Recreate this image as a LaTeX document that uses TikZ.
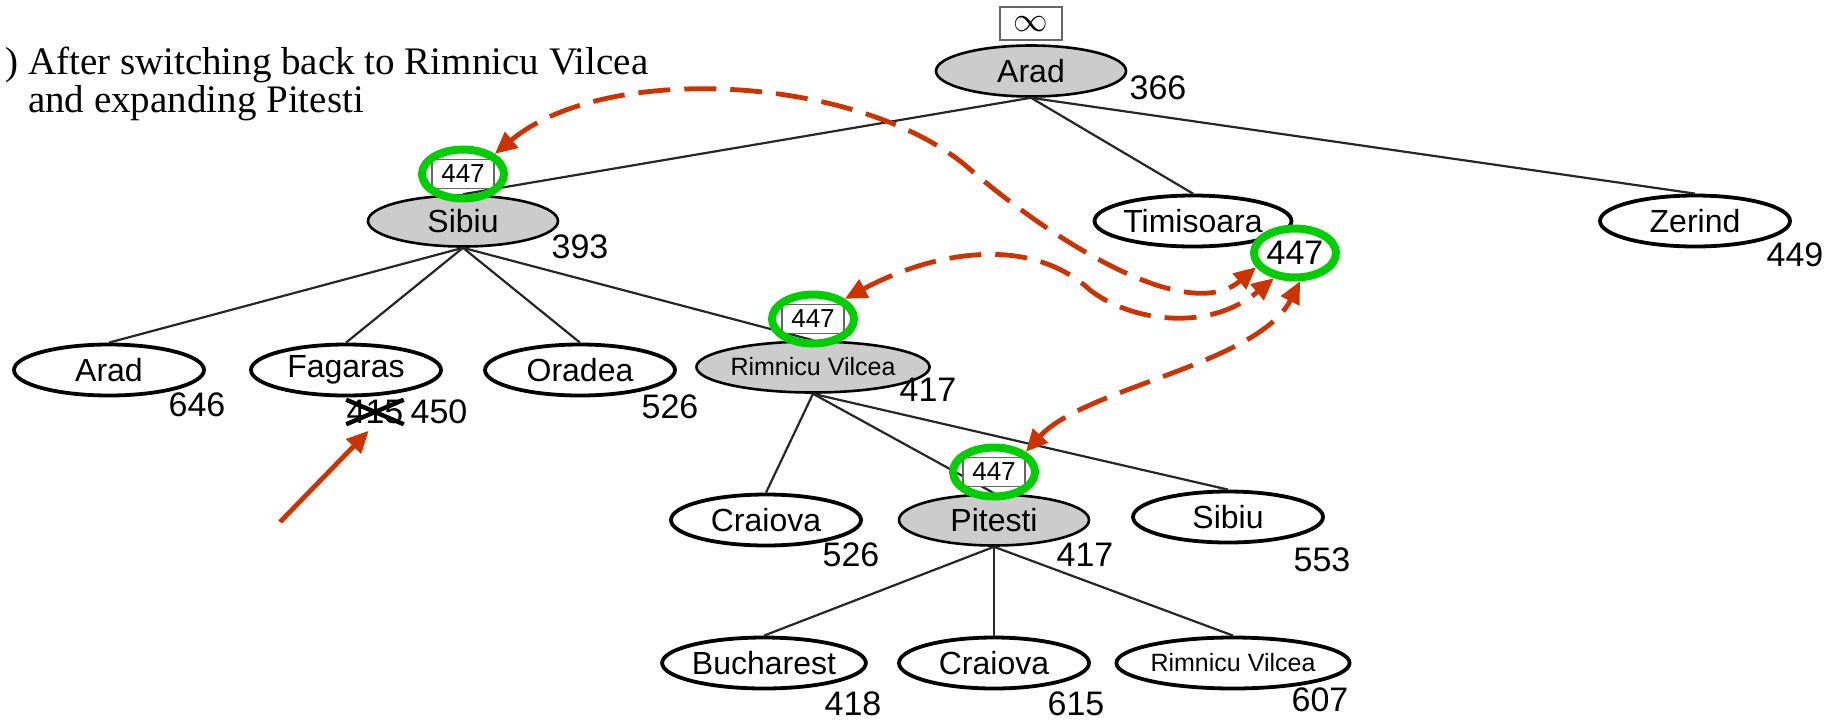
\documentclass[tikz,border=0pt]{standalone}
\usepackage{fontspec}
\setmainfont{Liberation Serif}
\newfontfamily\helv{Liberation Sans}
\usetikzlibrary{arrows.meta,positioning,shapes.geometric}
\definecolor{arrowred}{RGB}{204,51,0}
\definecolor{ringgreen}{RGB}{0,206,0}

\begin{document}
\begin{tikzpicture}[x=0.5pt,y=-0.5pt,
      font=\helv\fontsize{16}{18}\selectfont,
      city/.style={ellipse,draw,line width=1.9pt,fill=white,
                   minimum width=95pt,minimum height=25.5pt,inner sep=0pt},
      expanded/.style={city,fill=black!20,line width=1.3pt},
      hval/.style={inner sep=0pt,font=\helv\fontsize{17}{17}\selectfont},
      limbox/.style={draw=black!60,fill=white,line width=0.7pt,
                     minimum width=31pt,minimum height=14.5pt,inner sep=0pt,
                     font=\helv\fontsize{13}{13}\selectfont},
      ring/.style={ellipse,draw=ringgreen,line width=4pt,
                   minimum width=41pt,minimum height=24.5pt,inner sep=0pt},
      treeline/.style={line width=1.1pt,black!85},
      backarr/.style={{Triangle[length=11pt,width=10pt]}-{Triangle[length=11pt,width=10pt]},
                      line width=2.4pt,draw=arrowred,dash pattern=on 16pt off 7pt},
      pointer/.style={-{Triangle[length=11pt,width=10pt]},line width=2.4pt,draw=arrowred}]
    \useasboundingbox (0,0) rectangle (1837,724);
    \node[anchor=north west,align=left,font=\rmfamily\fontsize{19.5}{19}\selectfont] (title) at (21,40)
      {\llap{) }After switching back to Rimnicu Vilcea\\and expanding Pitesti};
    % search tree
    \node[expanded] (arad) at (1031,71) {Arad};
    \node[expanded] (sibiu) at (463,221) {Sibiu};
    \node[city] (timi) at (1193,221) {Timisoara};
    \node[city] (zerind) at (1695,221) {Zerind};
    \node[city] (aradB) at (109,370) {Arad};
    \node[city] (fagaras) at (346,370) {Fagaras};
    \node[city] (oradea) at (580,370) {Oradea};
    \node[expanded,font=\helv\fontsize{12.5}{13}\selectfont] (rimnicu) at (813,367) {Rimnicu Vilcea};
    \node[city] (craiova) at (766,520) {Craiova};
    \node[expanded] (pitesti) at (994,520) {Pitesti};
    \node[city] (sibiuB) at (1228,517) {Sibiu};
    \node[city] (bucharest) at (764,663) {Bucharest};
    \node[city] (craiovaB) at (994,663) {Craiova};
    \node[city,font=\helv\fontsize{12.5}{13}\selectfont] (rimnicuB) at (1233,663) {Rimnicu Vilcea};
    \draw[treeline] (arad.south)--(sibiu.north);
    \draw[treeline] (arad.south)--(timi.north);
    \draw[treeline] (arad.south)--(zerind.north);
    \draw[treeline] (sibiu.south)--(aradB.north);
    \draw[treeline] (sibiu.south)--(fagaras.north);
    \draw[treeline] (sibiu.south)--(oradea.north);
    \draw[treeline] (sibiu.south)--(rimnicu.north);
    \draw[treeline] (rimnicu.south)--(craiova.north);
    \draw[treeline] (rimnicu.south)--(pitesti.north);
    \draw[treeline] (rimnicu.south)--(sibiuB.north);
    \draw[treeline] (pitesti.south)--(bucharest.north);
    \draw[treeline] (pitesti.south)--(craiovaB.north);
    \draw[treeline] (pitesti.south)--(rimnicuB.north);
    % f-limits
    \node[limbox,minimum height=16.5pt,line width=1pt,font=\fontsize{18}{18}\selectfont,above=1.5pt of arad] (finf) {$\infty$};
    \node[limbox,above=2.5pt of sibiu] (fS) {447};
    \node[limbox,above=3pt of rimnicu] (fR) {447};
    \node[limbox,above=3pt of pitesti] (fP) {447};
    \node[ring] (ringS) at (fS) {};
    \node[ring] (ringR) at (fR) {};
    \node[ring] (ringP) at (fP) {};
    \node[ring,fill=white,font=\helv\fontsize{17}{17}\selectfont] (ringT) at (1295,253) {447};
    % f-values
    \node[hval] (vArad) at (1158,88) {366};
    \node[hval] (vSibiu) at (580,247) {393};
    \node[hval] (vZerind) at (1795,255) {449};
    \node[hval] (vAradB) at (197,405) {646};
    \node[hval] (oldF) at (375,412) {415};
    \draw[line width=2.2pt] (oldF.north west)--(oldF.south east) (oldF.south west)--(oldF.north east);
    \node[hval] (vFagaras) at (439,412) {450};
    \node[hval] (vOradea) at (670,407) {526};
    \node[hval] (vRimnicu) at (928,390) {417};
    \node[hval] (vCraiova) at (851,555) {526};
    \node[hval] (vPitesti) at (1085,555) {417};
    \node[hval] (vSibiuB) at (1322,560) {553};
    \node[hval] (vBucharest) at (853,704) {418};
    \node[hval] (vCraiovaB) at (1076,704) {615};
    \node[hval] (vRimnicuB) at (1320,700) {607};
    % backed-up values
    \coordinate (bend1) at (965,165);
    \coordinate (bend2) at (1090,290);
    \draw[backarr] (ringS.north east) .. controls +(110,-92) and +(-110,-90) .. (bend1)
      .. controls +(80,70) and +(-70,60) .. (ringT.200);
    \draw[backarr] (ringR.north east) .. controls +(90,-48) and +(-60,-55) .. (bend2)
      .. controls +(40,31) and +(-66,55) .. (ringT.230);
    \draw[backarr] (ringP.north east) .. controls +(58,-64) and +(-42,83) .. (ringT.-80);
    \coordinate (ptr) at (280,522);
    \draw[pointer,shorten >=4.5pt] (ptr)--(oldF.south);
  \end{tikzpicture}
\end{document}
